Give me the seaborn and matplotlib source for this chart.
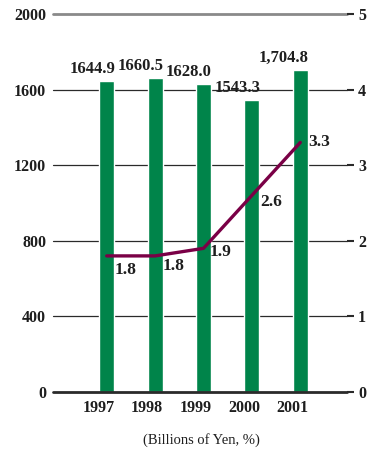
import numpy as np
import pandas as pd
import matplotlib
matplotlib.use("Agg")
import matplotlib.pyplot as plt
import matplotlib.transforms as mtransforms
import seaborn as sns

# Sales (billions of yen) and ratio (%) by fiscal year
years = ["1997", "1998", "1999", "2000", "2001"]
sales = [1644.9, 1660.5, 1628.0, 1543.3, 1704.8]
ratio = [1.8, 1.8, 1.9, 2.6, 3.3]
sales_fmt = ["{:.1f}", "{:.1f}", "{:.1f}", "{:.1f}", "{:,.1f}"]
left_ticks = [0, 400, 800, 1200, 1600, 2000]
right_ticks = [0, 1, 2, 3, 4, 5]
caption = "(Billions of Yen, %)"

sns.set_theme(style="white")
plt.rcParams["font.family"] = ["Liberation Serif", "DejaVu Serif"]

BAR = "#00844a"
LINE = "#7a0046"
DARK = "#2a2a2a"
TXT = "#1e1e1e"

df = pd.DataFrame({"year": years, "sales": sales, "ratio": ratio})
pos = np.arange(len(years))

fig = plt.figure(figsize=(3.75, 4.51), dpi=100)
ax = fig.add_axes([0.1413, 0.1308, 0.784, 0.8383])

bar_w = 0.31
sns.barplot(data=df, x="year", y="sales", color=BAR, width=bar_w,
            saturation=1, ax=ax, zorder=2)
ax.set_xlim(-1.11, 4.965)
ax.set_ylim(0, 2000)
ax.set_yticks(left_ticks)
ax.set_xlabel("")
ax.set_ylabel("")
for s in ax.spines.values():
    s.set_visible(False)

# horizontal reference lines at each left tick
for t in left_ticks:
    if t == left_ticks[-1]:
        ax.axhline(t, color="#8a8a8a", lw=2.0, zorder=1, clip_on=False)
    elif t == 0:
        ax.axhline(t, color=DARK, lw=2.0, zorder=3, clip_on=False)
    else:
        ax.axhline(t, color=DARK, lw=0.9, zorder=1, clip_on=False)

ax.tick_params(axis="y", length=0, pad=5, labelsize=11.5, colors=TXT)
ax.tick_params(axis="x", length=0, pad=6, labelsize=11.5, colors=TXT)
for lab in ax.get_yticklabels() + ax.get_xticklabels():
    lab.set_fontweight("bold")
shift = mtransforms.ScaledTranslation(-8 / 100, 0, fig.dpi_scale_trans)
for lab in ax.get_xticklabels():
    lab.set_transform(lab.get_transform() + shift)

# value labels above bars
for i, (v, f) in enumerate(zip(sales, sales_fmt)):
    ax.annotate(f.format(v), xy=(pos[i] + bar_w / 2, v), xytext=(1, 4),
                textcoords="offset pixels", ha="right", va="bottom",
                fontsize=12, fontweight="bold", color=TXT, zorder=5)

# ratio line on the secondary axis
ax2 = ax.twinx()
sns.lineplot(x=pos, y=ratio, color=LINE, lw=2.4, ax=ax2, zorder=4)
ax2.set_ylim(0, 5)
ax2.set_yticks(right_ticks)
for s in ax2.spines.values():
    s.set_visible(False)
ax2.tick_params(axis="y", right=True, direction="out", length=5, width=1.5,
                color=DARK, pad=3, labelsize=11.5, colors=TXT)
ax2.tick_params(axis="y", color=DARK)
for lab in ax2.get_yticklabels():
    lab.set_fontweight("bold")

offsets = [(8, -6), (7, -2), (6, -4), (8, 1), (8, 0)]
vas = ["top", "top", "center", "top", "center"]
for i, v in enumerate(ratio):
    ax2.annotate(f"{v:.1f}", xy=(pos[i], v), xytext=offsets[i],
                 textcoords="offset pixels", ha="left", va=vas[i],
                 fontsize=12.5, fontweight="bold", color=TXT, zorder=6)

fig.text(0.536, 0.024, caption, ha="center", va="center",
         fontsize=10.5, color=TXT)

fig.savefig("out.png", dpi=100)
